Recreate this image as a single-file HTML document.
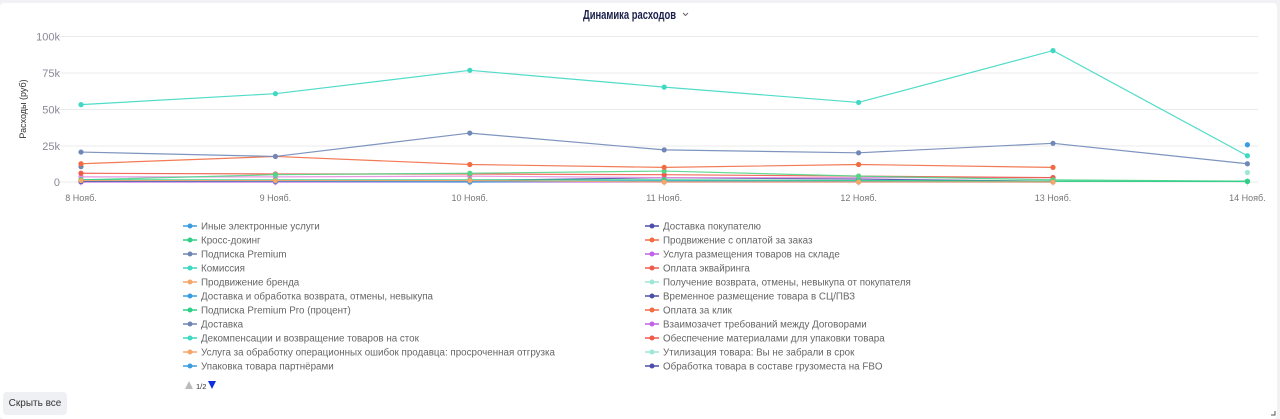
<!DOCTYPE html>
<html><head><meta charset="utf-8"><style>
html,body{margin:0;padding:0;background:#f2f2f4;}
body{width:1280px;height:419px;position:relative;overflow:hidden;font-family:"Liberation Sans",sans-serif;}
.card{position:absolute;left:0;top:3px;width:1277px;height:416px;background:#fff;border-radius:4px;}
svg{position:absolute;left:0;top:0;}
.btn{position:absolute;left:3px;top:392px;width:64px;height:23px;background:#eef0f4;border-radius:4px;font-size:10px;color:#333;text-align:center;line-height:23px;}
</style></head><body>
<div class="card"></div>
<svg id="s" width="1280" height="419" xmlns="http://www.w3.org/2000/svg" font-family="Liberation Sans, sans-serif"></svg>
<div class="btn">Скрыть все</div>
<script>
const s=document.getElementById('s');let h='';
h+='<text x="583" y="19" font-family="Liberation Sans Narrow, Liberation Sans, sans-serif" font-weight="bold" font-size="13" fill="#1a1f4a" textLength="93" lengthAdjust="spacingAndGlyphs">Динамика расходов</text>';
h+='<path d="M683 13 l2.5 2.5 l2.5 -2.5" stroke="#666" fill="none" stroke-width="1"/>';
const ys=[[100,36.5,'100k'],[75,73,'75k'],[50,109.5,'50k'],[25,146,'25k'],[0,182,'0']];
ys.forEach(t=>{h+=`<line x1="57" x2="1258" y1="${t[1]}" y2="${t[1]}" stroke="#ebebeb"/>`;h+=`<text x="60" y="${t[1]+4}" text-anchor="end" font-size="11" fill="#8a8a99">${t[2]}</text>`;});
h+='<text transform="translate(26,109) rotate(-90)" text-anchor="middle" font-size="9" fill="#333">Расходы (руб)</text>';
const X=i=>81+194.4*i,Y=v=>182-v*1.46;
for(let i=0;i<7;i++){h+=`<line x1="${X(i)}" x2="${X(i)}" y1="182" y2="186" stroke="#ddd"/><text x="${X(i)}" y="201" text-anchor="middle" font-size="9" fill="#777">${i+8} Нояб.</text>`;}
const S=[
['#5bc8a8',[0.3,0.3,0.5,0.5,0.5,0.5,0.3]],
['#c061e8',[0,0,0,0,0,0]],
['#3a9de0',[0.5,0.5,0,0.8,0.5,0]],
['#3a9de0',[,,,,,,25.5]],
['#4a4fa8',[0.5,0.8,1,3,2,0.5]],
['#e48ee0',[3.5,3.5,4,3,3,3]],
['#ef5a4a',[6,5.5,5.5,5,4,3]],
['#52d68a',[1.5,5,6,7.5,4,1.5,0.5]],
['#2fcf86',[1.5,1.5,1.5,1.5,1,0.5,0.5]],
['#f5a66a',[1,1,1,0,0,0]],
['#6f86b5',[10.5]],
['#f26b43',[12.5,17.5,12,10,12,10]],
['#7088b8',[20.5,17.5,33.5,22,20,26.5,12.5]],
['#3ed8c3',[53,60.5,76.5,65,54.5,90,18]],
['#9ee6d6',[,,,,,,6.5]]];
S.forEach(([c,d])=>{let p=[];d.forEach((v,i)=>{if(v!==undefined)p.push(X(i)+','+Y(v))});
if(p.length>1)h+=`<polyline points="${p.join(' ')}" fill="none" stroke="${c}" stroke-width="1.2" opacity="0.9"/>`;
d.forEach((v,i)=>{if(v!==undefined)h+=`<circle cx="${X(i)}" cy="${Y(v)}" r="2.6" fill="${c}"/>`});});
const L1=[['#3a9de0','Иные электронные услуги'],['#2fcf86','Кросс-докинг'],['#6f86b5','Подписка Premium'],['#3ed8c3','Комиссия'],['#f5a66a','Продвижение бренда'],['#3a9de0','Доставка и обработка возврата, отмены, невыкупа'],['#2fcf86','Подписка Premium Pro (процент)'],['#6f86b5','Доставка'],['#3ed8c3','Декомпенсации и возвращение товаров на сток'],['#f5a66a','Услуга за обработку операционных ошибок продавца: просроченная отгрузка'],['#3a9de0','Упаковка товара партнёрами']];
const L2=[['#4a4fa8','Доставка покупателю'],['#f26b43','Продвижение с оплатой за заказ'],['#c061e8','Услуга размещения товаров на складе'],['#ef5a4a','Оплата эквайринга'],['#9ee6d6','Получение возврата, отмены, невыкупа от покупателя'],['#4a4fa8','Временное размещение товара в СЦ/ПВЗ'],['#f26b43','Оплата за клик'],['#c061e8','Взаимозачет требований между Договорами'],['#ef5a4a','Обеспечение материалами для упаковки товара'],['#9ee6d6','Утилизация товара: Вы не забрали в срок'],['#4a4fa8','Обработка товара в составе грузоместа на FBO']];
function leg(L,x){L.forEach(([c,t],i)=>{const y=226+14*i;h+=`<line x1="${x-7}" x2="${x+7}" y1="${y}" y2="${y}" stroke="${c}" stroke-width="1.5"/><circle cx="${x}" cy="${y}" r="2.5" fill="${c}"/><text x="${x+11}" y="${y+3.5}" font-size="9.8" fill="#666">${t}</text>`;});}
leg(L1,190);leg(L2,652);
h+='<path d="M185 389 l4 -8 l4 8z" fill="#bbb"/><text x="196" y="389" font-size="7.5" fill="#333">1/2</text><path d="M208 381 l8 0 l-4 8z" fill="#1030e0"/>';
h+='<path d="M1275 411 v4 h-4" stroke="#555" fill="none"/>';
s.innerHTML=h;
</script>
</body></html>
